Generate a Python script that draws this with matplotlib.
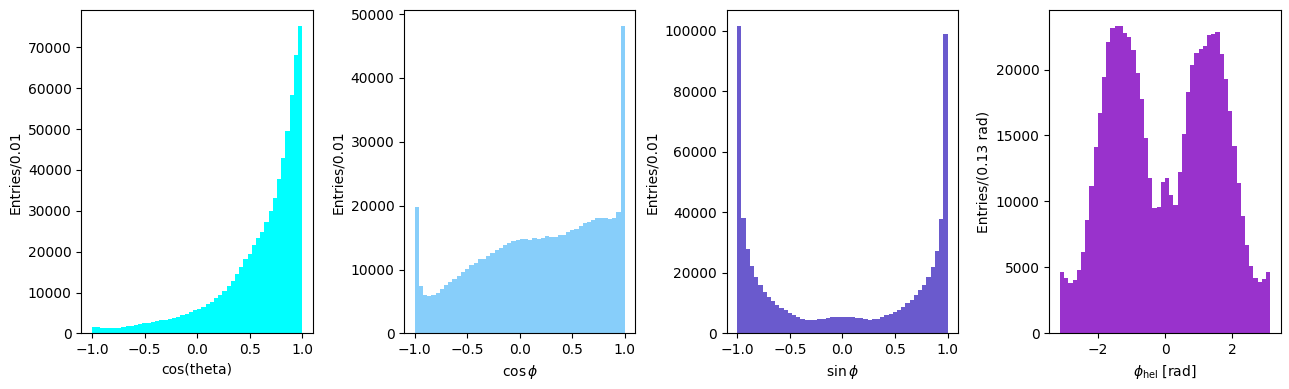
import numpy as np
import matplotlib
matplotlib.use("Agg")
import matplotlib.pyplot as plt

# bin contents, 50 bins each
cos_theta = [1480, 1480, 1230, 1230, 1230, 1230, 1230, 1480, 1730, 1730,
             1970, 2220, 2470, 2470, 2710, 2960, 3210, 3210, 3450, 3700,
             3950, 4440, 4690, 5180, 5670, 5920, 6410, 7150, 7650, 8630,
             9380, 10360, 11600, 12830, 14560, 16280, 18260, 19490, 21710, 23440,
             24920, 27140, 29850, 33060, 37750, 42930, 49590, 58220, 68090, 75250]

cos_phi = [19740, 7420, 6000, 5840, 6000, 6320, 6950, 7580, 8050, 8530,
           9000, 9630, 10110, 10740, 11050, 11680, 11680, 12160, 12630, 13110,
           13420, 13890, 14210, 14530, 14680, 14840, 14840, 14680, 15000, 14840,
           15000, 15320, 15160, 15160, 15470, 15470, 15950, 16260, 16420, 16890,
           17210, 17370, 17680, 18000, 18000, 18000, 17840, 18000, 18950, 48160]

sin_phi = [101670, 38000, 28000, 22330, 18670, 16000, 13670, 12000, 10670, 9330,
           8330, 7670, 6670, 6000, 5330, 4670, 4330, 4330, 4330, 4670,
           4670, 5000, 5330, 5330, 5330, 5330, 5330, 5330, 5000, 5000,
           4670, 4330, 4670, 4670, 5330, 6000, 6330, 7000, 7670, 8670,
           10000, 11000, 12670, 14330, 16000, 18670, 22000, 27330, 37670, 99000]

phi_hel = [4660, 4200, 3820, 4050, 4820, 6190, 8560, 11160, 14140, 16740,
           19410, 22090, 23160, 23310, 23310, 22780, 22470, 21480, 19720, 17730,
           14830, 11770, 9480, 9550, 11460, 11770, 10470, 9710, 12230, 15130,
           18270, 20330, 21250, 21550, 21780, 22620, 22700, 22850, 21170, 19260,
           16890, 14220, 11390, 8870, 6730, 5120, 4200, 3900, 4130, 4660]


def draw_hist(ax, counts, lo, hi, color, xlabel, ylabel):
    edges = np.linspace(lo, hi, len(counts) + 1)
    centers = 0.5 * (edges[:-1] + edges[1:])
    ax.hist(centers, bins=edges, weights=counts, color=color)
    ax.set_xlabel(xlabel)
    ax.set_ylabel(ylabel)


fig, axes = plt.subplots(1, 4, figsize=(12.89, 3.89), dpi=100)

draw_hist(axes[0], cos_theta, -1, 1, "cyan", "cos(theta)", "Entries/0.01")
draw_hist(axes[1], cos_phi, -1, 1, "lightskyblue", r"$\cos\phi$", "Entries/0.01")
draw_hist(axes[2], sin_phi, -1, 1, "slateblue", r"$\sin\phi$", "Entries/0.01")
draw_hist(axes[3], phi_hel, -np.pi, np.pi, "darkorchid",
          r"$\phi_{\mathrm{hel}}$ [rad]", "Entries/(0.13 rad)")

plt.tight_layout(pad=0.6)
plt.savefig("out.png")
